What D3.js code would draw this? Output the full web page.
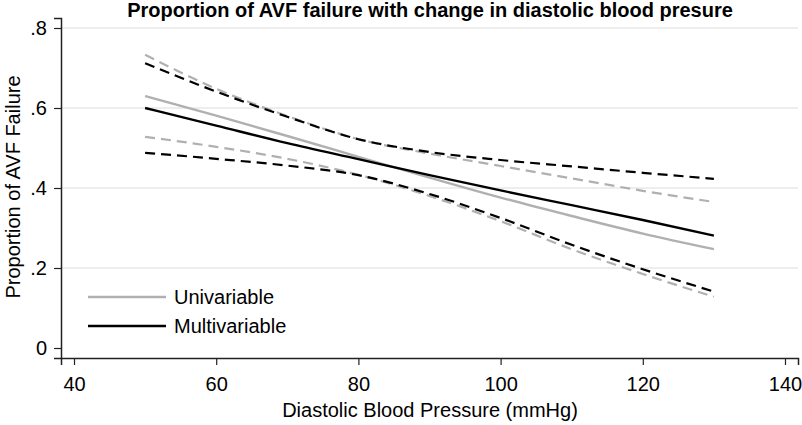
<!DOCTYPE html>
<html>
<head>
<meta charset="utf-8">
<script src="https://cdn.jsdelivr.net/npm/d3@7"></script>
<style>
  body { margin: 0; background: #fff; }
  svg { display: block; font-family: "Liberation Sans", Arial, sans-serif; }
</style>
</head>
<body>
<div id="chart"></div>
<script>
// Diastolic BP values where the curves were read
const bp = [50, 60, 70, 80, 90, 100, 110, 120, 130];

// Univariable model: estimate and 95% CI
const uniFit = [0.630, 0.581, 0.530, 0.478, 0.426, 0.376, 0.330, 0.286, 0.247];
const uniHi  = [0.733, 0.648, 0.580, 0.522, 0.486, 0.455, 0.424, 0.393, 0.365];
const uniLo  = [0.528, 0.503, 0.473, 0.433, 0.380, 0.317, 0.247, 0.185, 0.128];

// Multivariable model: estimate and 95% CI
const mulFit = [0.600, 0.556, 0.512, 0.472, 0.432, 0.394, 0.357, 0.320, 0.281];
const mulHi  = [0.712, 0.641, 0.578, 0.522, 0.490, 0.470, 0.454, 0.438, 0.423];
const mulLo  = [0.488, 0.473, 0.456, 0.432, 0.385, 0.325, 0.258, 0.197, 0.141];

const xTicks = [40, 60, 80, 100, 120, 140];
const yTicks = [0, 0.2, 0.4, 0.6, 0.8];

const GRAY = '#b0b0b0';
const BLACK = '#000';
const FONT = 20;

const width = 802, height = 425;
const margin = { top: 18, right: 4, bottom: 67, left: 61 };

const svg = d3.select('#chart').append('svg')
  .attr('width', width)
  .attr('height', height);

const x = d3.scaleLinear()
  .domain([38.17, 141.83])
  .range([margin.left, width - margin.right]);

const y = d3.scaleLinear()
  .domain([-0.025, 0.825])
  .range([height - margin.bottom, margin.top]);

// Gridlines (not at zero)
svg.append('g')
  .selectAll('line')
  .data(yTicks.filter(d => d > 0))
  .join('line')
  .attr('x1', margin.left)
  .attr('x2', width - margin.right)
  .attr('y1', d => y(d))
  .attr('y2', d => y(d))
  .attr('stroke', '#dcdcdc')
  .attr('stroke-width', 1);

// Axes
const fmt = d => d === 0 ? '0' : d3.format('.1f')(d).replace(/^0/, '');

const yAxis = svg.append('g')
  .attr('transform', `translate(${margin.left},0)`)
  .call(d3.axisLeft(y).tickValues(yTicks).tickFormat(fmt).tickSize(7).tickPadding(7));

const xAxis = svg.append('g')
  .attr('transform', `translate(0,${height - margin.bottom})`)
  .call(d3.axisBottom(x).tickValues(xTicks).tickSize(7).tickPadding(12));

[yAxis, xAxis].forEach(g => {
  g.select('.domain').attr('stroke', '#222').attr('stroke-width', 1.5);
  g.selectAll('.tick line').attr('stroke', '#222').attr('stroke-width', 1.2);
  g.selectAll('.tick text')
    .attr('fill', '#000')
    .attr('font-size', FONT)
    .attr('font-family', '"Liberation Sans", Arial, sans-serif');
});

// Curves
const line = d3.line()
  .x(d => x(d[0]))
  .y(d => y(d[1]))
  .curve(d3.curveMonotoneX);

const series = [
  { vals: uniHi,  color: GRAY,  dash: '10 6', w: 2.2 },
  { vals: uniLo,  color: GRAY,  dash: '10 6', w: 2.2 },
  { vals: uniFit, color: GRAY,  dash: null,   w: 2.4 },
  { vals: mulHi,  color: BLACK, dash: '10 6', w: 2.2 },
  { vals: mulLo,  color: BLACK, dash: '10 6', w: 2.2 },
  { vals: mulFit, color: BLACK, dash: null,   w: 2.4 },
];

svg.append('g')
  .selectAll('path')
  .data(series)
  .join('path')
  .attr('d', s => line(bp.map((b, i) => [b, s.vals[i]])))
  .attr('fill', 'none')
  .attr('stroke', s => s.color)
  .attr('stroke-width', s => s.w)
  .attr('stroke-dasharray', s => s.dash);

// Legend
const legend = [
  { label: 'Univariable', color: GRAY },
  { label: 'Multivariable', color: BLACK },
];

const lg = svg.append('g');
legend.forEach((d, i) => {
  const ly = 297 + i * 29;
  lg.append('line')
    .attr('x1', 88).attr('x2', 166)
    .attr('y1', ly).attr('y2', ly)
    .attr('stroke', d.color)
    .attr('stroke-width', 2.4);
  lg.append('text')
    .attr('x', 174)
    .attr('y', ly + 6.5)
    .attr('font-size', FONT)
    .attr('fill', '#000')
    .text(d.label);
});

// Title
svg.append('text')
  .attr('x', 430)
  .attr('y', 17)
  .attr('text-anchor', 'middle')
  .attr('font-size', 20)
  .attr('font-weight', 'bold')
  .attr('fill', '#000')
  .text('Proportion of AVF failure with change in diastolic blood presure');

// Axis titles
svg.append('text')
  .attr('x', 430)
  .attr('y', 417)
  .attr('text-anchor', 'middle')
  .attr('font-size', FONT)
  .attr('fill', '#000')
  .text('Diastolic Blood Pressure (mmHg)');

svg.append('text')
  .attr('transform', 'translate(20,187) rotate(-90)')
  .attr('text-anchor', 'middle')
  .attr('font-size', FONT)
  .attr('fill', '#000')
  .text('Proportion of AVF Failure');
</script>
</body>
</html>
